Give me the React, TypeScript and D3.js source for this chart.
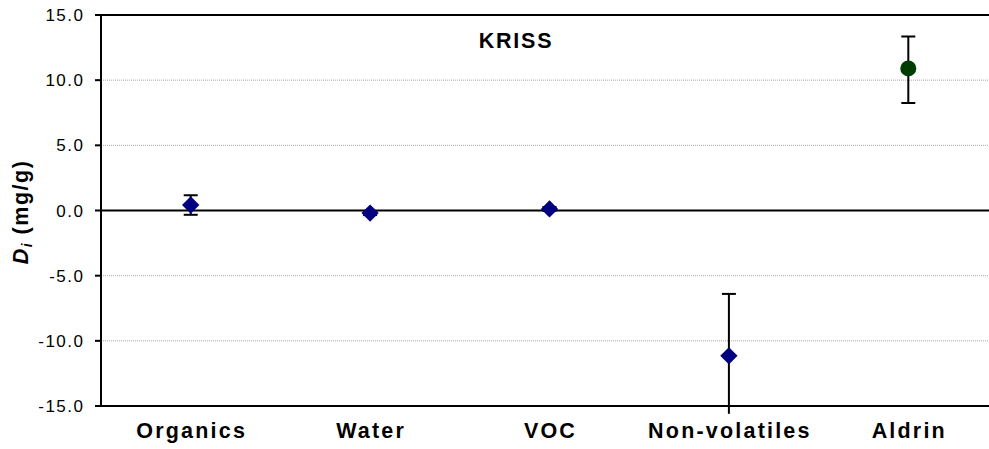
import React from "react";
import * as d3 from "d3";

const categories = ["Organics", "Water", "VOC", "Non-volatiles", "Aldrin"];
const values = [0.42, -0.2, 0.12, -11.15, 10.9];
const errUp = [0.75, 0.15, 0.15, 4.75, 2.45];
const errDown = [0.75, 0.15, 0.15, 4.45, 2.65];
const markerType = ["diamond", "diamond", "diamond", "diamond", "circle"];
const yTicks = [-15, -10, -5, 0, 5, 10, 15];
const title = "KRISS";

const W = 989;
const H = 449;
const left = 101;
const right = 998;
const top = 15;
const bottom = 406;
const font = "'Liberation Sans', Arial, Helvetica, sans-serif";

export default function App() {
  const x = d3.scaleBand<string>().domain(categories).range([left, right]);
  const y = d3.scaleLinear().domain([-15, 15]).range([bottom, top]);
  const cx = (c: string) => (x(c) as number) + x.bandwidth() / 2;
  const diamond = d3.symbol().type(d3.symbolSquare).size(150)();

  return (
    <svg
      width={W}
      height={H}
      style={{ position: "absolute", left: 0, top: 0, background: "#fff" }}
      fontFamily={font}
    >
      <rect x={0} y={0} width={W} height={H} fill="#fff" />
      {/* gridlines */}
      {yTicks.map((t) => (
        <line
          key={"g" + t}
          x1={left}
          x2={right}
          y1={y(t)}
          y2={y(t)}
          stroke="#a8a8a8"
          strokeWidth={1}
          strokeDasharray="1,1"
        />
      ))}
      {/* top & bottom border, zero line */}
      <line x1={left} x2={right} y1={y(15)} y2={y(15)} stroke="#000" strokeWidth={2} />
      <line x1={left} x2={right} y1={y(-15)} y2={y(-15)} stroke="#000" strokeWidth={2} />
      <line x1={left} x2={right} y1={y(0)} y2={y(0)} stroke="#000" strokeWidth={2} />
      {/* y axis */}
      <line x1={left} x2={left} y1={top - 1} y2={bottom + 1} stroke="#000" strokeWidth={2} />
      {yTicks.map((t) => (
        <g key={"t" + t}>
          <line x1={left - 6} x2={left} y1={y(t)} y2={y(t)} stroke="#000" strokeWidth={2} />
          <text
            x={84.5}
            y={y(t) + 6}
            textAnchor="end"
            fontSize={17}
            letterSpacing={1.5}
            fill="#000"
          >
            {t.toFixed(1)}
          </text>
        </g>
      ))}
      {/* category labels */}
      {categories.map((c) => (
        <text
          key={"c" + c}
          x={cx(c) + 1}
          y={437.5}
          textAnchor="middle"
          fontSize={21.5}
          fontWeight="bold"
          letterSpacing={2.2}
          fill="#000"
        >
          {c}
        </text>
      ))}
      {/* title */}
      <text x={516} y={48} textAnchor="middle" fontSize={21.5} fontWeight="bold" letterSpacing={1.8}>
        {title}
      </text>
      {/* y label */}
      <text
        transform={`translate(28, 212) rotate(-90)`}
        textAnchor="middle"
        fontSize={21.5}
        fontWeight="bold"
        letterSpacing={1.5}
      >
        <tspan fontStyle="italic">D</tspan>
        <tspan fontStyle="italic" fontSize={14} dy={4}>i</tspan>
        <tspan dy={-4}> (mg/g)</tspan>
      </text>
      {/* error bars */}
      {categories.map((c, i) => {
        const px = cx(c);
        const hi = values[i] + errUp[i];
        const lo = values[i] - errDown[i];
        return (
          <g key={"e" + c}>
            <line x1={px} x2={px} y1={y(hi)} y2={y(lo)} stroke="#000" strokeWidth={2} />
            {hi <= 15 && (
              <line x1={px - 7} x2={px + 7} y1={y(hi)} y2={y(hi)} stroke="#000" strokeWidth={2} />
            )}
            {lo >= -15 && (
              <line x1={px - 7} x2={px + 7} y1={y(lo)} y2={y(lo)} stroke="#000" strokeWidth={2} />
            )}
          </g>
        );
      })}
      {/* markers */}
      {categories.map((c, i) =>
        markerType[i] === "circle" ? (
          <circle key={"m" + c} cx={cx(c)} cy={y(values[i])} r={8} fill="#003d00" />
        ) : (
          <path
            key={"m" + c}
            d={diamond as string}
            transform={`translate(${cx(c)},${y(values[i])}) rotate(45)`}
            fill="#000080"
          />
        )
      )}
    </svg>
  );
}
